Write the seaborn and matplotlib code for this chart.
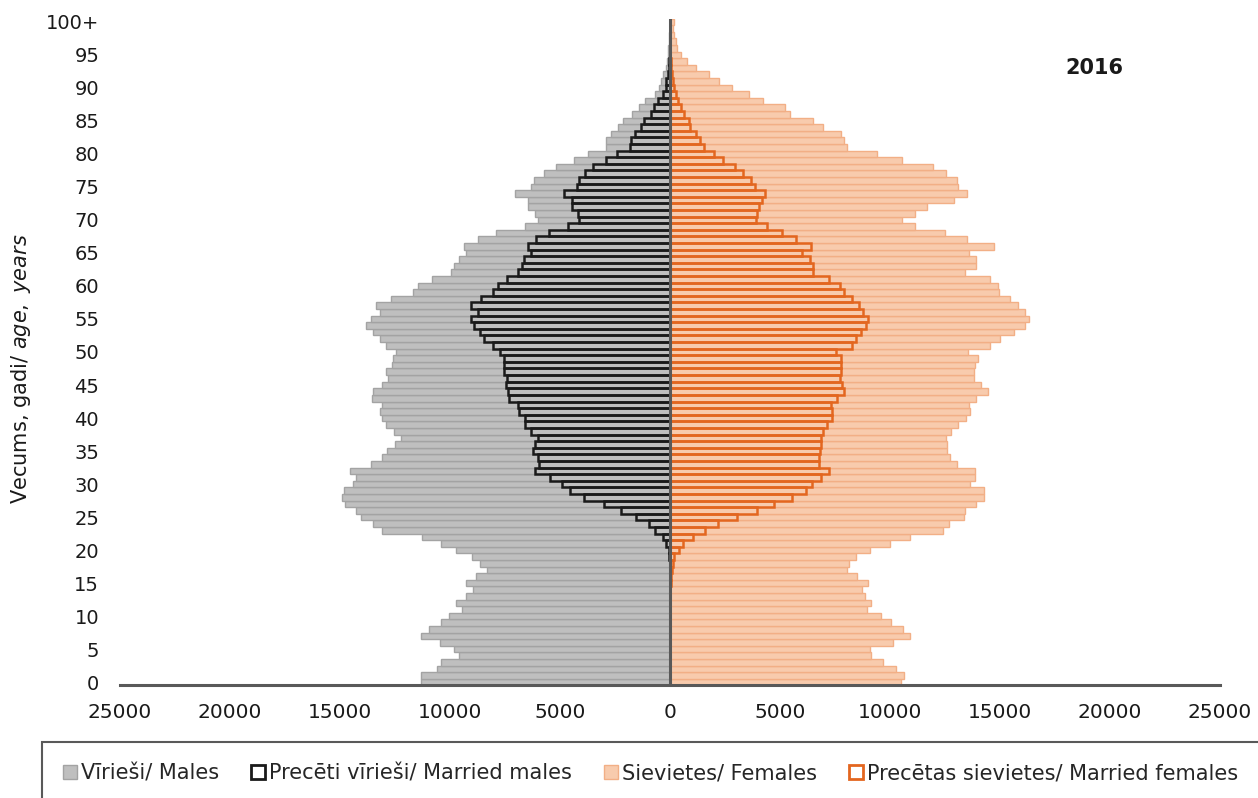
import numpy as np
import seaborn as sns
import matplotlib.pyplot as plt
from matplotlib.patches import Patch, Rectangle

# population by single year of age (0 .. 100+), Latvia 2016
ages = list(range(101))

males = [
    11340, 11340, 10590, 10390, 9610, 9830, 10470, 11330, 10960, 10420,
    10050, 9460, 9710, 9280, 8940, 9280, 8840, 8340, 8620, 8990,
    9750, 10390, 11290, 13080, 13500, 14030, 14290, 14760, 14920, 14820,
    14400, 14290, 14540, 13580, 13110, 12860, 12500, 12220, 12550, 12920,
    13080, 13180, 13080, 13550, 13500, 13110, 12840, 12890, 12640, 12570,
    12470, 12890, 13180, 13510, 13820, 13610, 13180, 13380, 12690, 11660,
    11460, 10810, 9950, 9800, 9610, 9280, 9360, 8750, 7900, 6610,
    6020, 6130, 6440, 6470, 7030, 6300, 6170, 5710, 5180, 4370,
    3730, 2890, 2890, 2660, 2350, 2130, 1710, 1430, 1140, 670,
    500, 400, 300, 170, 120, 100, 70, 50, 30, 20,
    10,
]

married_males = [
    0, 0, 0, 0, 0, 0, 0, 0, 0, 0,
    0, 0, 0, 0, 0, 0, 0, 10, 10, 30,
    50, 170, 340, 670, 970, 1560, 2240, 2990, 3900, 4540,
    4920, 5460, 6130, 5970, 6020, 6220, 6130, 6000, 6300, 6590,
    6610, 6860, 6890, 7340, 7360, 7440, 7390, 7560, 7560, 7560,
    7730, 8030, 8440, 8620, 8910, 9040, 8740, 9040, 8610, 8030,
    7830, 7390, 6920, 6710, 6640, 6340, 6470, 6100, 5510, 4620,
    4120, 4200, 4450, 4470, 4820, 4250, 4150, 3870, 3500, 2890,
    2390, 1820, 1760, 1580, 1310, 1180, 870, 720, 540, 300,
    200, 170, 100, 50, 30, 20, 10, 10, 0, 0,
    0,
]

females = [
    10490, 10620, 10250, 9680, 9130, 9080, 10130, 10910, 10590, 10050,
    9580, 8940, 9130, 8860, 8720, 9010, 8490, 8030, 8150, 8450,
    9110, 9980, 10920, 12420, 12670, 13360, 13410, 13900, 14270, 14270,
    13650, 13850, 13880, 13040, 12720, 12570, 12600, 12540, 12760, 13090,
    13450, 13630, 13600, 13920, 14440, 14130, 13820, 13830, 13870, 14000,
    13530, 14540, 14990, 15630, 16120, 16300, 16130, 15830, 15450, 14960,
    14910, 14540, 13410, 13900, 13920, 13580, 14740, 13480, 12500, 11130,
    10550, 11130, 11700, 12890, 13480, 13080, 13030, 12550, 11970, 10540,
    9410, 8030, 7900, 7760, 6960, 6490, 5450, 5210, 4240, 3600,
    2810, 2220, 1750, 1180, 760, 500, 340, 290, 170, 130,
    200,
]

married_females = [
    0, 0, 0, 0, 0, 0, 0, 0, 0, 0,
    0, 0, 0, 0, 0, 30, 50, 80, 120, 170,
    390, 600, 1040, 1580, 2170, 3030, 3970, 4740, 5550, 6200,
    6450, 6870, 7210, 6790, 6760, 6840, 6870, 6860, 6940, 7130,
    7360, 7360, 7310, 7600, 7900, 7820, 7730, 7750, 7780, 7760,
    7550, 8270, 8440, 8660, 8910, 8990, 8790, 8610, 8270, 7900,
    7730, 7230, 6490, 6500, 6370, 5980, 6420, 5710, 5090, 4400,
    3920, 3970, 4030, 4180, 4320, 3850, 3700, 3330, 2960, 2420,
    1980, 1550, 1380, 1180, 920, 870, 620, 490, 370, 290,
    170, 120, 80, 50, 30, 20, 10, 10, 0, 0,
    0,
]

x_ticks = list(range(-25000, 25001, 5000))
y_ticks = list(range(0, 101, 5))
y_tick_labels = [str(a) for a in y_ticks[:-1]] + ["100+"]

legend_labels = ["Vīrieši/ Males", "Precēti vīrieši/ Married males",
                 "Sievietes/ Females", "Precētas sievietes/ Married females"]

sns.set_style("white")
plt.rcParams['font.family'] = ['DejaVu Sans']

fig = plt.figure(figsize=(12.58, 7.98), dpi=100)
ax = fig.add_axes([0.0954, 0.1412, 0.8744, 0.8354])

neg_males = [-v for v in males]
neg_married_males = [-v for v in married_males]

sns.barplot(x=neg_males, y=ages, orient='h', native_scale=True, width=1.0,
            color='#BFBFBF', edgecolor='#A3A3A3', linewidth=1.0,
            saturation=1, errorbar=None, ax=ax, zorder=2)
sns.barplot(x=females, y=ages, orient='h', native_scale=True, width=1.0,
            color='#F8CBAD', edgecolor='#F2AF86', linewidth=1.0,
            saturation=1, errorbar=None, ax=ax, zorder=2)
sns.barplot(x=neg_married_males, y=ages, orient='h', native_scale=True, width=1.0,
            fill=False, color='#1A1A1A', edgecolor='#1A1A1A', linewidth=1.8,
            saturation=1, errorbar=None, ax=ax, zorder=3)
sns.barplot(x=married_females, y=ages, orient='h', native_scale=True, width=1.0,
            fill=False, color='#E3661F', edgecolor='#E3661F', linewidth=1.8,
            saturation=1, errorbar=None, ax=ax, zorder=3)

ax.axvline(0, color='#595959', lw=2.2, zorder=5)

ax.set_xlim(-25000, 25000)
ax.set_ylim(-0.5, 100.5)
ax.set_xticks(x_ticks)
ax.set_xticklabels([str(abs(t)) for t in x_ticks], fontsize=14.5, color='#1A1A1A')
ax.set_yticks(y_ticks)
ax.set_yticklabels(y_tick_labels, fontsize=14, color='#1A1A1A')
ax.tick_params(axis='x', direction='inout', length=10, width=2, color='#595959', pad=8)
ax.tick_params(axis='y', length=0, pad=15)
ax.set_xlabel('')
ax.set_ylabel('')

for side in ['top', 'right', 'left']:
    ax.spines[side].set_visible(False)
ax.spines['bottom'].set_color('#595959')
ax.spines['bottom'].set_linewidth(2.2)
ax.spines['bottom'].set_zorder(6)

ax.text(0.886, 0.926, '2016', transform=ax.transAxes, fontsize=15,
        fontweight='bold', ha='center', va='center', color='#1A1A1A')

fig.text(0.017, 1 - 369 / 798, r'Vecums, gadi/ $\mathit{age,\ years}$',
         rotation=90, ha='center', va='center', fontsize=15, color='#1A1A1A')

# legend box below the chart
fig.patches.append(Rectangle((42 / 1258, -0.01), 1.0, 0.0802, transform=fig.transFigure,
                             fill=False, edgecolor='#595959', lw=1.5, clip_on=False))

handles = [
    Patch(facecolor='#BFBFBF', edgecolor='#A3A3A3', lw=1.0),
    Patch(facecolor='none', edgecolor='#1A1A1A', lw=2.0),
    Patch(facecolor='#F8CBAD', edgecolor='#F2AF86', lw=1.0),
    Patch(facecolor='none', edgecolor='#E3661F', lw=2.0),
]
fig.legend(handles, legend_labels, loc='center', bbox_to_anchor=(0.517, 0.031),
           ncol=4, frameon=False, fontsize=15, handlelength=0.65, handleheight=0.65,
           handletextpad=0.2, columnspacing=1.55)

fig.savefig('out.png', dpi=100)
